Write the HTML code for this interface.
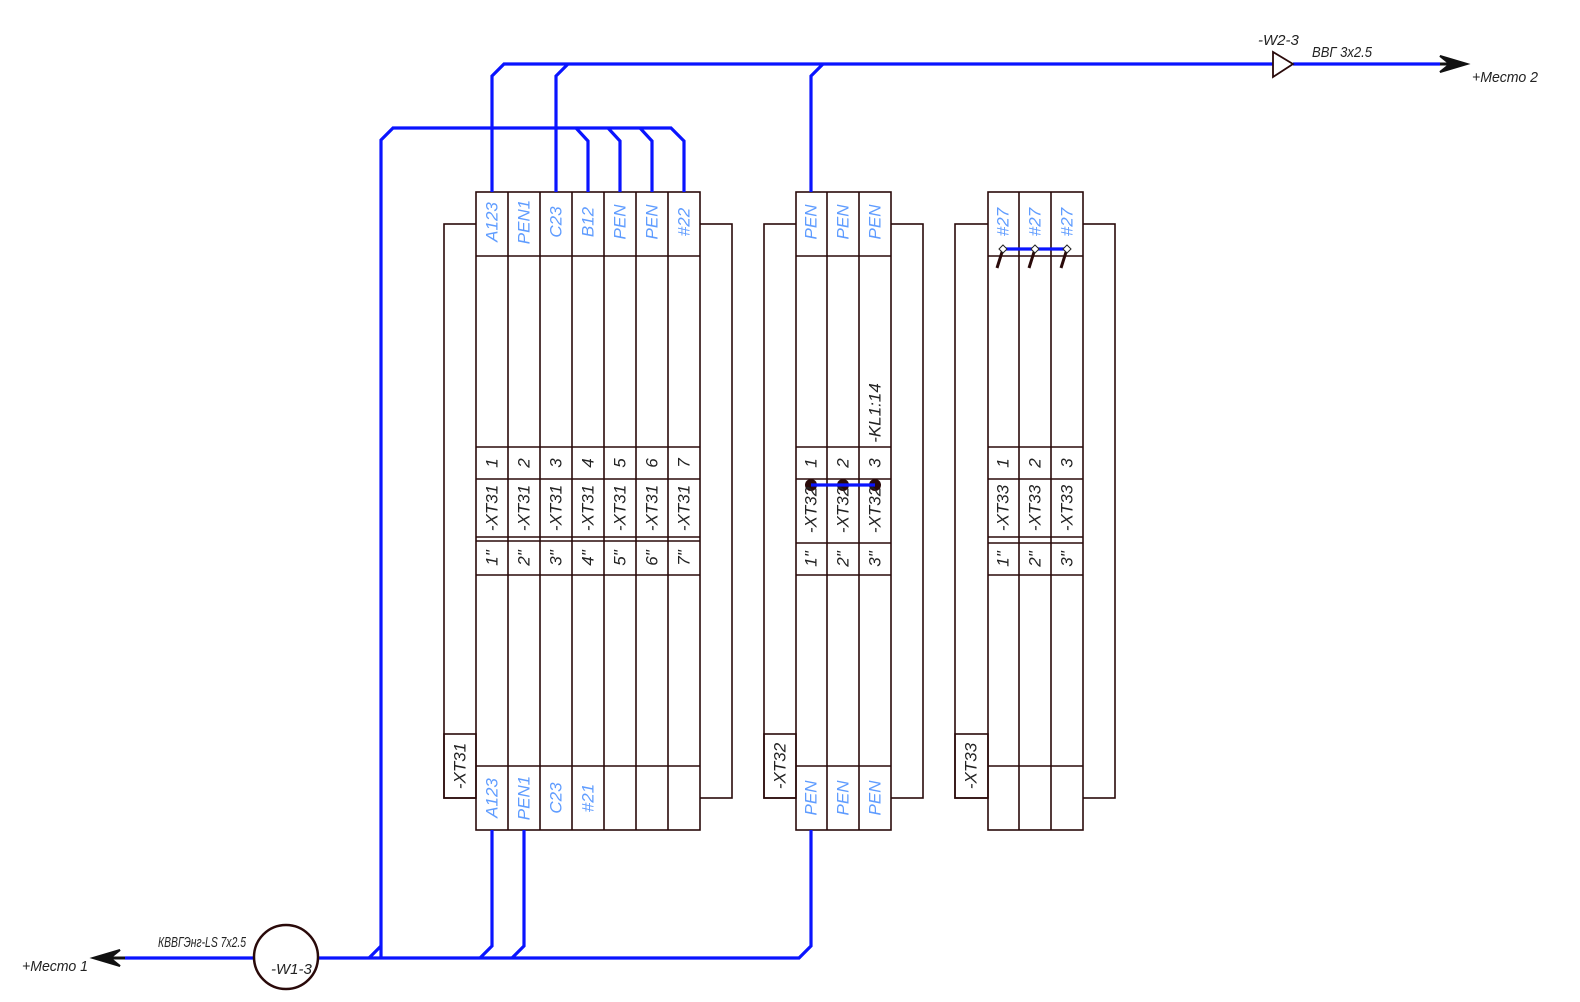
<!DOCTYPE html>
<html><head><meta charset="utf-8"><style>
html,body{margin:0;padding:0;background:#fff;}
svg{display:block;}
.b{stroke:#2a0a0a;stroke-width:1.6;fill:none;}
.w{stroke:#0a14ff;stroke-width:3.2;fill:none;}
.t{font-family:"Liberation Sans Narrow","Liberation Sans",sans-serif;font-style:italic;font-size:17px;text-anchor:middle;dominant-baseline:central;}
.bl{fill:#5f9cff;}
.k{fill:#222;}
</style></head><body>
<svg width="1580" height="1002" viewBox="0 0 1580 1002" xmlns="http://www.w3.org/2000/svg">
<rect class="b" x="444" y="224" width="288" height="574"/>
<rect class="b" x="476" y="192" width="224" height="638" style="fill:#fff"/>
<rect class="b" x="444" y="734" width="32" height="64"/>
<g class="b">
<path d="M508 192V830M540 192V830M572 192V830M604 192V830M636 192V830M668 192V830"/>
<path d="M476 256H700M476 447H700M476 479H700M476 537H700M476 541H700M476 575H700M476 766H700"/>
</g>
<rect class="b" x="764" y="224" width="159" height="574"/>
<rect class="b" x="796" y="192" width="95" height="638" style="fill:#fff"/>
<rect class="b" x="764" y="734" width="32" height="64"/>
<g class="b">
<path d="M827 192V830M859 192V830"/>
<path d="M796 256H891M796 447H891M796 479H891M796 543H891M796 575H891M796 766H891"/>
</g>
<rect class="b" x="955" y="224" width="160" height="574"/>
<rect class="b" x="988" y="192" width="95" height="638" style="fill:#fff"/>
<rect class="b" x="955" y="734" width="33" height="64"/>
<g class="b">
<path d="M1019 192V830M1051 192V830"/>
<path d="M988 256H1083M988 447H1083M988 479H1083M988 537H1083M988 543H1083M988 575H1083M988 766H1083"/>
</g>

<g class="w">
<path d="M492 192V76L504 64H1273"/>
<path d="M556 192V76L568 64"/>
<path d="M811 192V76L823 64"/>
<path d="M1293 64H1440"/>
<path d="M381 958V140L393 128H671L684 141V192"/>
<path d="M576 128L588 141V192M608 128L620 141V192M640 128L652 141V192"/>
<path d="M319 958H799L811 946V830"/>
<path d="M369 958L381 946M480 958L492 946V830M512 958L524 946V830"/>
<path d="M125 958H253"/>
<path d="M1003 249H1067"/>
</g>
<path d="M1440 64H1458" stroke="#111" stroke-width="3"/>
<path d="M1467 64L1440 56L1450 64L1440 72Z" fill="#111" stroke="#111" stroke-width="2"/>
<path d="M125 958H105" stroke="#111" stroke-width="3"/>
<path d="M93 958L120 950L110 958L120 966Z" fill="#111" stroke="#111" stroke-width="2"/>
<path d="M1273 52V77L1293 64Z" fill="#fff" stroke="#2a0a0a" stroke-width="1.8"/>
<circle cx="286" cy="957" r="32" fill="#fff" stroke="#2a0a0a" stroke-width="2.5"/>
<g fill="#2a0a0a"><circle cx="811" cy="485" r="6"/><circle cx="843" cy="485" r="6"/><circle cx="875" cy="485" r="6"/></g>
<path class="w" d="M811 485H875"/>
<g stroke="#2a0a0a" stroke-width="3"><path d="M1003 249L997 268M1035 249L1029 268M1067 249L1061 268"/></g>
<g fill="#fff" stroke="#222" stroke-width="1"><path d="M1003 245l4 4-4 4-4-4z"/><path d="M1035 245l4 4-4 4-4-4z"/><path d="M1067 245l4 4-4 4-4-4z"/></g>

<g class="t bl">
<text transform="translate(492,222) rotate(-90)">A123</text>
<text transform="translate(524,222) rotate(-90)">PEN1</text>
<text transform="translate(556,222) rotate(-90)">C23</text>
<text transform="translate(588,222) rotate(-90)">B12</text>
<text transform="translate(620,222) rotate(-90)">PEN</text>
<text transform="translate(652,222) rotate(-90)">PEN</text>
<text transform="translate(684,222) rotate(-90)">#22</text>
<text transform="translate(492,798) rotate(-90)">A123</text>
<text transform="translate(524,798) rotate(-90)">PEN1</text>
<text transform="translate(556,798) rotate(-90)">C23</text>
<text transform="translate(588,798) rotate(-90)">#21</text>
<text transform="translate(811,222) rotate(-90)">PEN</text>
<text transform="translate(843,222) rotate(-90)">PEN</text>
<text transform="translate(875,222) rotate(-90)">PEN</text>
<text transform="translate(811,798) rotate(-90)">PEN</text>
<text transform="translate(843,798) rotate(-90)">PEN</text>
<text transform="translate(875,798) rotate(-90)">PEN</text>
<text transform="translate(1003,222) rotate(-90)">#27</text>
<text transform="translate(1035,222) rotate(-90)">#27</text>
<text transform="translate(1067,222) rotate(-90)">#27</text>
</g>
<g class="t k">
<text transform="translate(492,463) rotate(-90)">1</text>
<text transform="translate(524,463) rotate(-90)">2</text>
<text transform="translate(556,463) rotate(-90)">3</text>
<text transform="translate(588,463) rotate(-90)">4</text>
<text transform="translate(620,463) rotate(-90)">5</text>
<text transform="translate(652,463) rotate(-90)">6</text>
<text transform="translate(684,463) rotate(-90)">7</text>
<text transform="translate(492,508) rotate(-90)">-XT31</text>
<text transform="translate(524,508) rotate(-90)">-XT31</text>
<text transform="translate(556,508) rotate(-90)">-XT31</text>
<text transform="translate(588,508) rotate(-90)">-XT31</text>
<text transform="translate(620,508) rotate(-90)">-XT31</text>
<text transform="translate(652,508) rotate(-90)">-XT31</text>
<text transform="translate(684,508) rotate(-90)">-XT31</text>
<text transform="translate(492,558) rotate(-90)">1"</text>
<text transform="translate(524,558) rotate(-90)">2"</text>
<text transform="translate(556,558) rotate(-90)">3"</text>
<text transform="translate(588,558) rotate(-90)">4"</text>
<text transform="translate(620,558) rotate(-90)">5"</text>
<text transform="translate(652,558) rotate(-90)">6"</text>
<text transform="translate(684,558) rotate(-90)">7"</text>
<text transform="translate(460,766) rotate(-90)">-XT31</text>

<text transform="translate(811,463) rotate(-90)">1</text>
<text transform="translate(843,463) rotate(-90)">2</text>
<text transform="translate(875,463) rotate(-90)">3</text>
<text transform="translate(811,510) rotate(-90)">-XT32</text>
<text transform="translate(843,510) rotate(-90)">-XT32</text>
<text transform="translate(875,510) rotate(-90)">-XT32</text>
<text transform="translate(811,559) rotate(-90)">1"</text>
<text transform="translate(843,559) rotate(-90)">2"</text>
<text transform="translate(875,559) rotate(-90)">3"</text>
<text transform="translate(875,413) rotate(-90)">-KL1:14</text>
<text transform="translate(780,766) rotate(-90)">-XT32</text>

<text transform="translate(1003,463) rotate(-90)">1</text>
<text transform="translate(1035,463) rotate(-90)">2</text>
<text transform="translate(1067,463) rotate(-90)">3</text>
<text transform="translate(1003,508) rotate(-90)">-XT33</text>
<text transform="translate(1035,508) rotate(-90)">-XT33</text>
<text transform="translate(1067,508) rotate(-90)">-XT33</text>
<text transform="translate(1003,559) rotate(-90)">1"</text>
<text transform="translate(1035,559) rotate(-90)">2"</text>
<text transform="translate(1067,559) rotate(-90)">3"</text>
<text transform="translate(971,766) rotate(-90)">-XT33</text>
</g>
<g style="font-family:'Liberation Sans Narrow','Liberation Sans',sans-serif;font-style:italic;font-size:15px;fill:#222">
<text x="1258" y="45">-W2-3</text>
<text x="1312" y="57" textLength="60" lengthAdjust="spacingAndGlyphs">ВВГ 3х2.5</text>
<text x="1472" y="82" textLength="66" lengthAdjust="spacingAndGlyphs">+Место 2</text>
<text x="158" y="947" textLength="88" lengthAdjust="spacingAndGlyphs">КВВГЭнг-LS 7х2.5</text>
<text x="22" y="971" textLength="66" lengthAdjust="spacingAndGlyphs">+Место 1</text>
<text x="271" y="974">-W1-3</text>
</g>
</svg>
</body></html>
